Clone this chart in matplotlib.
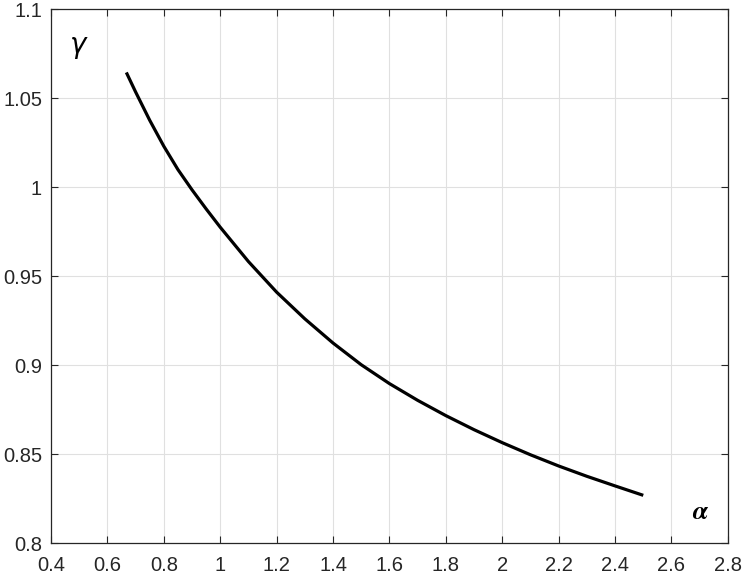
import matplotlib
matplotlib.use("Agg")
import matplotlib.pyplot as plt

alpha = [0.667, 0.7, 0.75, 0.8, 0.85, 0.9, 0.95, 1.0, 1.1, 1.2, 1.3, 1.4, 1.5,
         1.6, 1.7, 1.8, 1.9, 2.0, 2.1, 2.2, 2.3, 2.4, 2.5]
gamma = [1.0645, 1.0535, 1.0376, 1.0230, 1.0099, 0.9985, 0.9878, 0.9775, 0.9582,
         0.9410, 0.9260, 0.9124, 0.9002, 0.8896, 0.8802, 0.8716, 0.8637, 0.8564,
         0.8496, 0.8433, 0.8375, 0.8321, 0.8268]

xticks = [0.4, 0.6, 0.8, 1.0, 1.2, 1.4, 1.6, 1.8, 2.0, 2.2, 2.4, 2.6, 2.8]
xticklabels = ["0.4", "0.6", "0.8", "1", "1.2", "1.4", "1.6", "1.8", "2", "2.2", "2.4", "2.6", "2.8"]
yticks = [0.8, 0.85, 0.9, 0.95, 1.0, 1.05, 1.1]
yticklabels = ["0.8", "0.85", "0.9", "0.95", "1", "1.05", "1.1"]

plt.rcParams['font.family'] = ['Liberation Sans', 'DejaVu Sans']
plt.rcParams['mathtext.fontset'] = 'stix'

fig = plt.figure(figsize=(7.45, 5.77), dpi=100)
ax = fig.add_axes([0.0685, 0.0589, 0.9085, 0.9250])

ax.plot(alpha, gamma, color='black', linewidth=2.3, solid_capstyle='butt',
        solid_joinstyle='round')

ax.set_xlim(0.4, 2.8)
ax.set_ylim(0.8, 1.1)
ax.set_xticks(xticks)
ax.set_xticklabels(xticklabels)
ax.set_yticks(yticks)
ax.set_yticklabels(yticklabels)

ax.grid(True, color='#e0e0e0', linewidth=0.8)
ax.set_axisbelow(True)
for s in ax.spines.values():
    s.set_color('#262626')
    s.set_linewidth(0.9)
ax.tick_params(direction='in', length=5, width=0.8, colors='#262626',
               labelsize=14.5, top=True, right=True, labelcolor='#262626')
ax.tick_params(axis='x', pad=9.5)
ax.tick_params(axis='y', pad=6.5)

ax.text(0.04, 0.934, 'γ', transform=ax.transAxes, fontsize=20,
        family=['DejaVu Sans'], style='oblique',
        ha='center', va='center', color='black')
ax.text(0.959, 0.058, r'$\boldsymbol{\alpha}$', transform=ax.transAxes, fontsize=19,
        ha='center', va='center', color='black')

fig.savefig('out.png', dpi=100)
